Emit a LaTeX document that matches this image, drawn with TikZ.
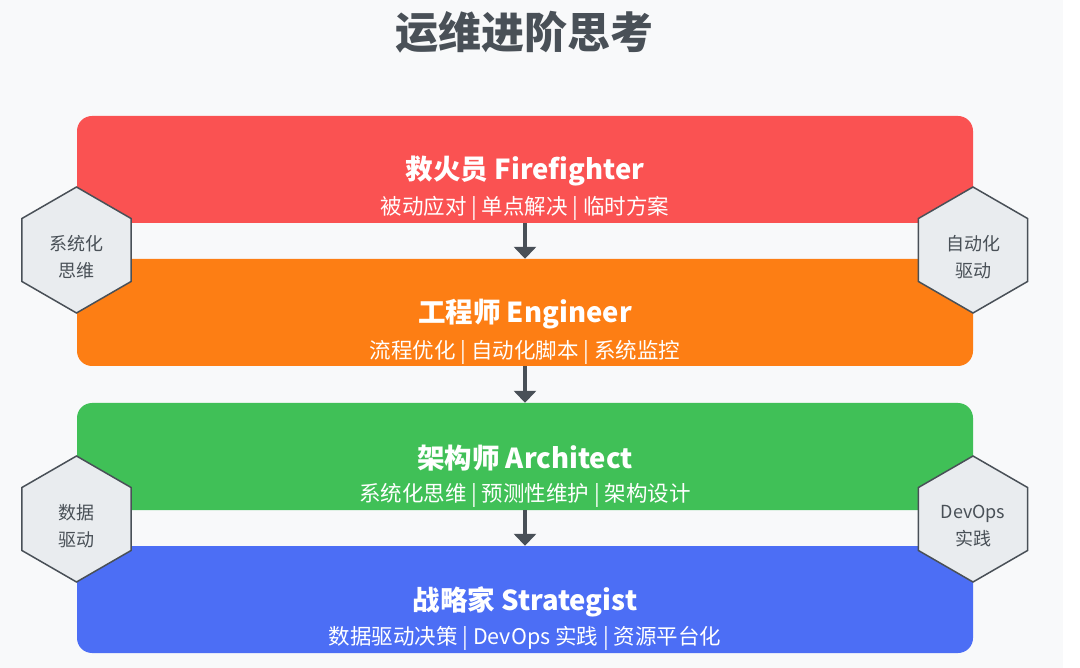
\documentclass[tikz,border=0pt]{standalone}
\usepackage{fontspec}
\setmainfont{Noto Sans CJK SC}
\usetikzlibrary{shapes.geometric}
\usetikzlibrary{arrows.meta}
\definecolor{bgpanel}{HTML}{F8F9FA}
\definecolor{tierred}{HTML}{FA5252}
\definecolor{tierorange}{HTML}{FD7E14}
\definecolor{tiergreen}{HTML}{40C057}
\definecolor{tierblue}{HTML}{4C6EF5}
\definecolor{hexfill}{HTML}{E9ECEF}
\definecolor{inkgray}{HTML}{495057}
\tikzset{tier/.style={rounded corners=15pt, minimum width=896pt, minimum height=107pt, inner sep=0pt}}
\tikzset{tiername/.style={text=white, font=\fontsize{27.5}{32}\selectfont\bfseries}}
\tikzset{tiernote/.style={text=white, font=\fontsize{21.5}{26}\selectfont}}
\tikzset{hexa/.style={regular polygon, regular polygon sides=6, shape border rotate=30,
    minimum size=126pt, inner sep=0pt, draw=inkgray, line width=1.5pt, fill=hexfill}}
\tikzset{hexnote/.style={align=center, text=inkgray, font=\fontsize{18}{27}\selectfont}}
\tikzset{stepline/.style={-{Triangle[width=22pt,length=12pt]}, line width=4pt, draw=inkgray}}

\begin{document}
\begin{tikzpicture}[x=1pt,y=-1pt]
                \useasboundingbox (0,0) rectangle (1080,668);
                \fill[bgpanel] (0,0) rectangle (1063,668);

                % Title
                \node[text=inkgray, font=\fontsize{43}{50}\selectfont\bfseries] (title) at (524,32) {运维进阶思考};

                % Tiers
                \node[tier, fill=tierred] (firefighter) at (525,169.5) {};
                \node[tier, fill=tierorange] (engineer) at (525,312.5) {};
                \node[tier, fill=tiergreen] (architect) at (525,456.5) {};
                \node[tier, fill=tierblue] (strategist) at (525,599.5) {};

                % Arrows
                \draw[stepline] (firefighter.south) -- (engineer.north);
                \draw[stepline] (engineer.south) -- (architect.north);
                \draw[stepline] (architect.south) -- (strategist.north);

                % Labels
                \node[tiername] (firefighter-name) at ([yshift=-2pt]firefighter.center) {救火员 Firefighter};
                \node[tiernote] (firefighter-note) at ([yshift=-39pt]firefighter.center) {被动应对 | 单点解决 | 临时方案};
                \node[tiername] (engineer-name) at ([yshift=-2pt]engineer.center) {工程师 Engineer};
                \node[tiernote] (engineer-note) at ([yshift=-40pt]engineer.center) {流程优化 | 自动化脚本 | 系统监控};
                \node[tiername] (architect-name) at ([yshift=-2pt]architect.center) {架构师 Architect};
                \node[tiernote] (architect-note) at ([yshift=-39pt]architect.center) {系统化思维 | 预测性维护 | 架构设计};
                \node[tiername] (strategist-name) at ([yshift=-2pt]strategist.center) {战略家 Strategist};
                \node[tiernote] (strategist-note) at ([yshift=-39pt]strategist.center) {数据驱动决策 | DevOps 实践 | 资源平台化};

                % Hexagons
                \node[hexa] (systems) at (76.5,250) {};
                \node[hexnote] (systems-text) at ([yshift=-7pt]systems.center) {系统化\\思维};
                \node[hexa] (automation) at (973,250) {};
                \node[hexnote] (automation-text) at ([yshift=-7pt]automation.center) {自动化\\驱动};
                \node[hexa] (datadriven) at (76.5,519) {};
                \node[hexnote] (datadriven-text) at ([yshift=-7pt]datadriven.center) {数据\\驱动};
                \node[hexa] (devops) at (973,519) {};
                \node[hexnote] (devops-text) at ([yshift=-7pt]devops.center) {DevOps\\实践};
\end{tikzpicture}
\end{document}
